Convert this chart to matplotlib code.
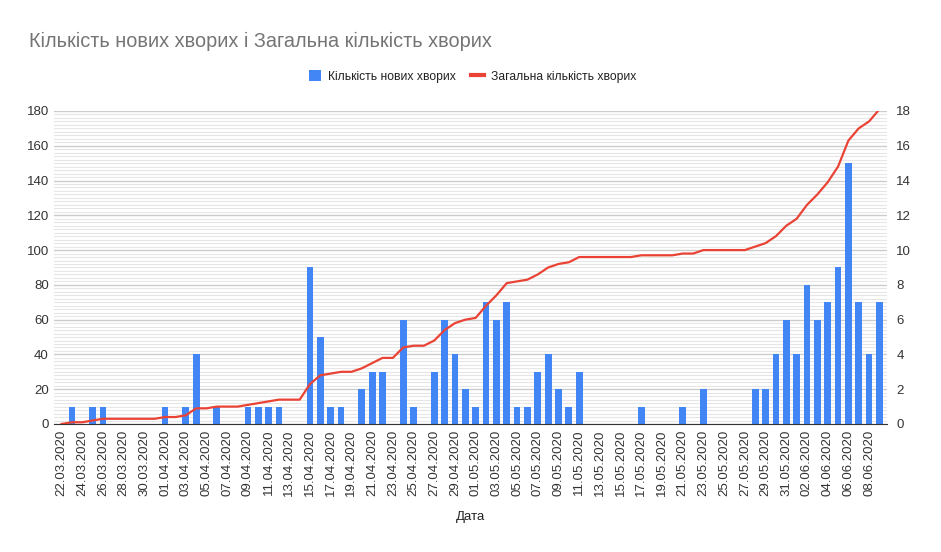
import numpy as np
import pandas as pd
import matplotlib
matplotlib.use('Agg')
import matplotlib.pyplot as plt
from matplotlib.ticker import MultipleLocator
from matplotlib.patches import Patch
from matplotlib.lines import Line2D

plt.rcParams['font.family'] = ['Liberation Sans', 'DejaVu Sans']

# Data (22.03.2020 - 09.06.2020)
dates = pd.date_range('2020-03-22', '2020-06-09', freq='D')
date_labels = [d.strftime('%d.%m.%Y') for d in dates]

new_cases = [0, 1, 0, 1, 1, 0, 0, 0, 0, 0,
             1, 0, 1, 4, 0, 1, 0, 0, 1, 1,
             1, 1, 0, 0, 9, 5, 1, 1, 0, 2,
             3, 3, 0, 6, 1, 0, 3, 6, 4, 2,
             1, 7, 6, 7, 1, 1, 3, 4, 2, 1,
             3, 0, 0, 0, 0, 0, 1, 0, 0, 0,
             1, 0, 2, 0, 0, 0, 0, 2, 2, 4,
             6, 4, 8, 6, 7, 9, 15, 7, 4, 7]

total_cases = [0, 1, 1, 2, 3, 3, 3, 3, 3, 3,
               4, 4, 5, 9, 9, 10, 10, 10, 11, 12,
               13, 14, 14, 14, 23, 28, 29, 30, 30, 32,
               35, 38, 38, 44, 45, 45, 48, 54, 58, 60,
               61, 68, 74, 81, 82, 83, 86, 90, 92, 93,
               96, 96, 96, 96, 96, 96, 97, 97, 97, 97,
               98, 98, 100, 100, 100, 100, 100, 102, 104, 108,
               114, 118, 126, 132, 139, 148, 163, 170, 174, 181]

label_new = 'Кількість нових хворих'
label_total = 'Загальна кількість хворих'
blue = '#4285F4'
red = '#EA4335'

x = np.arange(len(dates))

fig = plt.figure(figsize=(9.41, 5.52), dpi=100)
ax1 = fig.add_axes([0.0577, 0.2319, 0.8846, 0.5671])
ax2 = ax1.twinx()

# bars on the right axis, grid lives there too
ax2.bar(x, new_cases, width=0.65, color=blue, zorder=3)
ax2.set_ylim(0, 18)
ax2.yaxis.set_major_locator(MultipleLocator(2))
ax2.yaxis.set_minor_locator(MultipleLocator(0.2))
ax2.grid(True, which='major', axis='y', color='#cccccc', linewidth=1)
ax2.grid(True, which='minor', axis='y', color='#e6e6e6', linewidth=0.8)
ax2.set_axisbelow(True)

# line on the left axis, drawn above the bars
ax1.set_zorder(ax2.get_zorder() + 1)
ax1.patch.set_visible(False)
ax1.plot(x, total_cases, color=red, linewidth=1.6)
ax1.set_ylim(0, 180)
ax1.yaxis.set_major_locator(MultipleLocator(20))
ax1.set_xlim(-0.7, len(x) - 0.3)
ax1.set_xticks(x[::2])
ax1.set_xticklabels(date_labels[::2], rotation=90)
ax1.set_xlabel('Дата', fontsize=9.5, color='#222222', va='center')
ax1.xaxis.set_label_coords(0.5, -0.296)

for ax in (ax1, ax2):
    for s in ('top', 'left', 'right', 'bottom'):
        ax.spines[s].set_visible(False)
    ax.tick_params(axis='both', which='both', length=0, labelsize=9.5,
                   colors='#333333')
ax1.spines['bottom'].set_visible(True)
ax1.spines['bottom'].set_color('#333333')
ax1.tick_params(axis='x', pad=4)
ax1.tick_params(axis='y', pad=4)
ax2.tick_params(axis='y', pad=7)

fig.text(0.031, 0.915, 'Кількість нових хворих і Загальна кількість хворих',
         fontsize=14.3, color='#757575')

handles = [Patch(facecolor=blue, edgecolor='none'),
           Line2D([0], [0], color=red, linewidth=3)]
fig.legend(handles, [label_new, label_total], loc='center',
           bbox_to_anchor=(0.502, 0.861), ncol=2, frameon=False, fontsize=8.7,
           handlelength=1.0, handleheight=1.0, columnspacing=1.3,
           handletextpad=0.6, labelcolor='#222222')

fig.savefig('out.png', dpi=100)
